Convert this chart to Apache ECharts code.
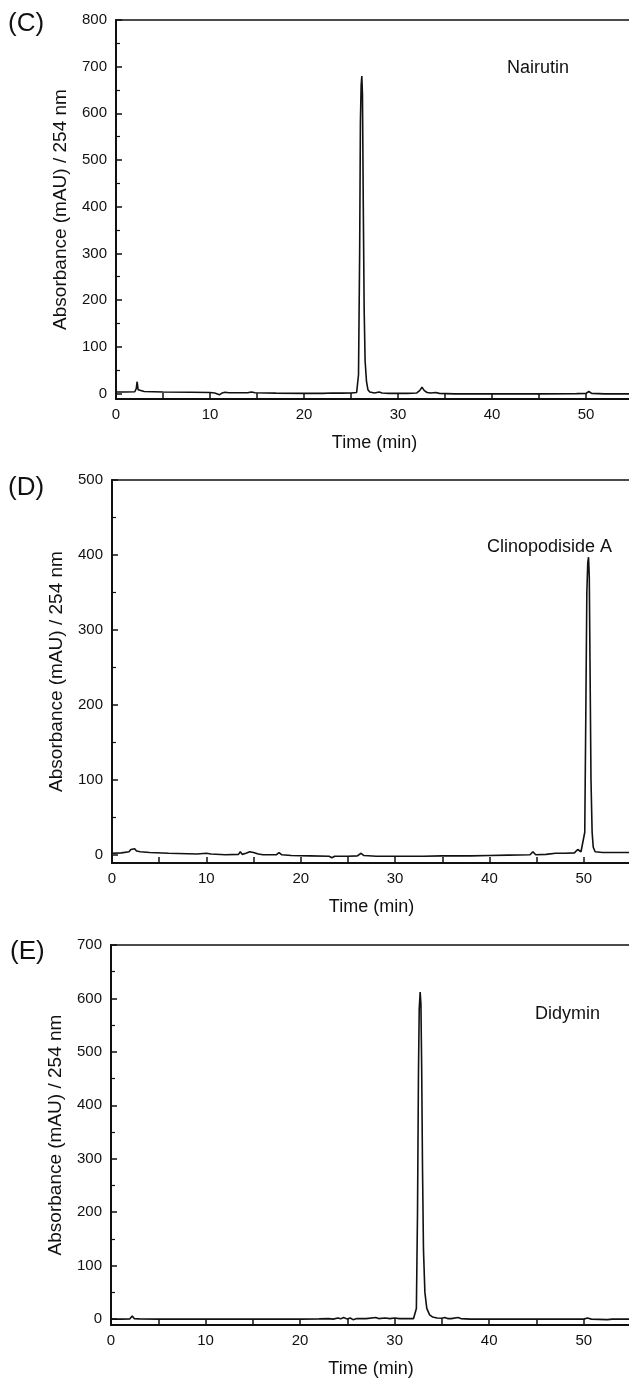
<!DOCTYPE html>
<html><head><meta charset="utf-8">
<script src="https://cdn.jsdelivr.net/npm/echarts@6/dist/echarts.min.js"></script>
<style>html,body{margin:0;padding:0;background:#fff}#c{width:629px;height:1383px}</style>
</head><body><div id="c"></div>
<script>
// ---- data (time in min, absorbance in mAU) ----
const panelLabels = ['(C)', '(D)', '(E)'];
const compoundNames = ['Nairutin', 'Clinopodiside A', 'Didymin'];
const xTitle = 'Time (min)';
const yTitle = 'Absorbance (mAU) / 254 nm';
const yMax = [800, 500, 700];
const yMin = [-12, -11, -11];

const nairutin = [
 [0,3],[1,3],[2,3.5],[2.15,10],[2.25,25],[2.35,8],[2.5,5],[3,4],[5,3],[8,2.5],[10,2],[10.5,1],[11,-3],[11.3,1],[11.6,2.5],[12,1.5],
 [14,1.5],[14.4,3],[14.8,1.5],[17,0.5],[20,0],[22,0],[23,1],[24,0.5],[25,1],[25.6,2],[25.8,40],[25.92,300],[26.0,580],[26.08,660],[26.15,680],
 [26.22,640],[26.3,420],[26.4,180],[26.5,70],[26.65,25],[26.8,8],[27,3],[27.5,1],[28,3],[28.3,1],[29,0],[30,0],[31,0],[32,1],[32.3,6],[32.55,13],
 [32.8,6],[33.1,2],[33.5,1],[34,2],[34.4,0],[36,-1],[40,-1],[45,-1],[49,-0.5],[50,0],[50.3,4],[50.6,0],[52,-1],[55,-1]
];
const clinopodiside = [
 [0,2],[1,2.5],[1.8,4],[2,7],[2.2,9],[2.4,8],[2.6,5],[3,4],[4,3],[6,2],[9,1],[10,2],[10.5,1],[12,0],[13.4,0.5],[13.6,4],[13.8,0.5],
 [14.2,2],[14.6,4],[15,3],[15.5,1],[16,0],[17.4,0],[17.7,3],[18,0],[19,-1],[21,-1.5],[23,-2],[23.3,-4],[23.6,-2],[25,-2],[26,-1.5],
 [26.4,2],[26.7,-1],[28,-2],[30,-2],[33,-2],[35,-1.5],[35.2,0],[35.5,-1.5],[38,-1.5],[40,-1],[42,-0.5],[44.3,0],[44.6,4],[44.9,0],
 [46,0.5],[47,2],[48,2],[49,2.5],[49.35,7],[49.5,9],[49.7,4],[49.9,2],[50.1,30],[50.22,200],[50.32,350],[50.42,390],[50.5,397],[50.58,370],
 [50.66,250],[50.76,100],[50.88,30],[51,10],[51.2,4],[52,3],[55,3]
];
const didymin = [
 [0,0],[1,0],[2,0.5],[2.25,6],[2.45,1],[3,0.5],[5,0],[10,0],[15,0],[20,0],[22,0.5],[23,1],[23.5,0],[24,2],[24.3,0.5],[24.6,3],[25,0],
 [25.3,2],[25.6,-1],[26,1],[27,1],[28,3],[28.3,1],[29,2],[29.5,1],[30,2],[30.5,1],[31,1],[32,1],[32.3,20],[32.42,200],[32.52,460],
 [32.6,580],[32.7,612],[32.78,590],[32.86,470],[32.95,280],[33.05,130],[33.2,50],[33.4,20],[33.7,8],[34,4],[34.5,2],[35,1.5],[35.3,3],[35.6,1],[36,1],
 [36.7,3],[37,1],[38,0],[40,0],[45,0],[50,0],[50.4,2],[50.8,0],[52.5,-1],[52.7,-2],[53,0],[55,0]
];
const seriesData = [nairutin, clinopodiside, didymin];

// ---- layout ----
const FONT = 'Liberation Sans, Arial, Helvetica, sans-serif';
const INK = '#111';
const grids = [
 {left:116, top:20, width:517, height:379},
 {left:112, top:480, width:519, height:383},
 {left:111, top:945, width:520, height:380}
];
const splitNums = [8, 5, 7];

const chart = echarts.init(document.getElementById('c'), null, {renderer:'canvas'});
const option = {
 animation:false,
 backgroundColor:'#fff',
 textStyle:{fontFamily:FONT},
 grid: grids.map(g => Object.assign({show:true, borderColor:INK, borderWidth:1.6, backgroundColor:'transparent', containLabel:false, outerBoundsMode:'none'}, g)),
 xAxis: grids.map((g,i) => ({
  type:'value', gridIndex:i, min:0, max:55, interval:5,
  name:xTitle, nameLocation:'middle', nameGap:35,
  nameTextStyle:{fontSize:18, color:INK, fontFamily:FONT},
  axisLine:{show:true, onZero:false, lineStyle:{color:INK, width:2}},
  axisTick:{show:true, inside:true, length:6, lineStyle:{color:INK, width:1.5}},
  axisLabel:{margin:8, fontSize:15, color:INK, fontFamily:FONT, formatter:v => (v % 10 === 0 && v < 55 ? String(v) : '')},
  splitLine:{show:false}
 })),
 yAxis: grids.map((g,i) => ({
  type:'value', gridIndex:i, min:yMin[i], max:yMax[i], splitNumber:splitNums[i],
  name:yTitle, nameLocation:'middle', nameGap:46,
  nameTextStyle:{fontSize:19, color:INK, fontFamily:FONT},
  axisLine:{show:true, onZero:false, lineStyle:{color:INK, width:2}},
  axisTick:{show:true, inside:true, length:6, lineStyle:{color:INK, width:1.5}},
  minorTick:{show:true, splitNumber:2, length:4, lineStyle:{color:INK, width:1.2}},
  axisLabel:{margin:9, fontSize:15, color:INK, fontFamily:FONT, formatter:v => (v >= 0 && v % 100 === 0 ? String(v) : '')},
  splitLine:{show:false}
 })),
 series: seriesData.map((d,i) => ({
  type:'line', xAxisIndex:i, yAxisIndex:i, data:d, showSymbol:false, symbol:'none',
  lineStyle:{color:INK, width:1.6}, silent:true
 })),
 graphic: [
  {type:'text', left:8, top:11, style:{text:panelLabels[0], font:'26px '+FONT, fill:INK}},
  {type:'text', left:8, top:475, style:{text:panelLabels[1], font:'26px '+FONT, fill:INK}},
  {type:'text', left:10, top:939, style:{text:panelLabels[2], font:'26px '+FONT, fill:INK}},
  {type:'text', left:507, top:59, style:{text:compoundNames[0], font:'18px '+FONT, fill:INK}},
  {type:'text', left:487, top:538, style:{text:compoundNames[1], font:'18px '+FONT, fill:INK}},
  {type:'text', left:535, top:1005, style:{text:compoundNames[2], font:'18px '+FONT, fill:INK}}
 ]
};
chart.setOption(option);
</script></body></html>
